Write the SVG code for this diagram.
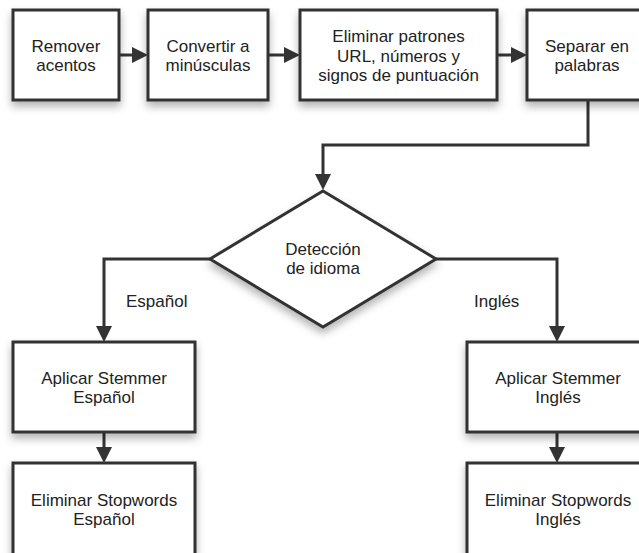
<svg xmlns="http://www.w3.org/2000/svg" width="639" height="553" viewBox="0 0 639 553">
<defs>
<filter id="sh" x="-20%" y="-20%" width="140%" height="150%">
<feDropShadow dx="0" dy="5" stdDeviation="4" flood-color="#000" flood-opacity="0.3"/>
</filter>
<marker id="ah" viewBox="0 0 16 16" refX="8" refY="8" markerWidth="16" markerHeight="16" markerUnits="userSpaceOnUse" orient="auto">
<path d="M0,0 L16,8 L0,16 z" fill="#333"/>
</marker>
<style>
.box{fill:#fff;stroke:#333;stroke-width:3;filter:url(#sh)}
.t{font-family:"Liberation Sans",Arial,sans-serif;font-size:17px;fill:#222;text-anchor:middle}
.l{font-family:"Liberation Sans",Arial,sans-serif;font-size:17px;fill:#222}
.c{fill:none;stroke:#333;stroke-width:3;marker-end:url(#ah)}
</style>
</defs>
<rect width="639" height="553" fill="#fff"/>
<g id="connectors">
<path class="c" d="M119.5,55 H140"/>
<path class="c" d="M268,55 H292"/>
<path class="c" d="M497,55 H519"/>
<path class="c" d="M588,100 V145 H323 V182"/>
<path class="c" d="M210,259 H104 V334"/>
<path class="c" d="M436,259 H557 V334"/>
<path class="c" d="M104,432 V455"/>
<path class="c" d="M557,432 V455"/>
</g>
<g id="n1"><rect class="box" x="13" y="10" width="106" height="90"/><text class="t" x="66" y="52">Remover</text><text class="t" x="66" y="71">acentos</text></g>
<g id="n2"><rect class="box" x="148" y="10" width="120" height="90"/><text class="t" x="208" y="52">Convertir a</text><text class="t" x="208" y="71">minúsculas</text></g>
<g id="n3"><rect class="box" x="300" y="10" width="197" height="90"/><text class="t" x="398.5" y="42">Eliminar patrones</text><text class="t" x="398.5" y="61.5">URL, números y</text><text class="t" x="398.5" y="81">signos de puntuación</text></g>
<g id="n4"><rect class="box" x="527" y="10" width="120" height="90"/><text class="t" x="587" y="52">Separar en</text><text class="t" x="587" y="71">palabras</text></g>
<g id="n5"><polygon class="box" points="323,191 436,259 323,327 210,259"/><text class="t" x="323" y="255">Detección</text><text class="t" x="323" y="274">de idioma</text></g>
<g id="n6"><rect class="box" x="13" y="342" width="182" height="90"/><text class="t" x="104" y="384">Aplicar Stemmer</text><text class="t" x="104" y="403">Español</text></g>
<g id="n7"><rect class="box" x="13" y="463" width="182" height="92"/><text class="t" x="104" y="506">Eliminar Stopwords</text><text class="t" x="104" y="525">Español</text></g>
<g id="n8"><rect class="box" x="467" y="342" width="182" height="90"/><text class="t" x="558" y="384">Aplicar Stemmer</text><text class="t" x="558" y="403">Inglés</text></g>
<g id="n9"><rect class="box" x="467" y="463" width="182" height="92"/><text class="t" x="558" y="506">Eliminar Stopwords</text><text class="t" x="558" y="525">Inglés</text></g>
<g id="labels"><text class="l" x="126" y="307">Español</text><text class="l" x="474" y="307">Inglés</text></g>
</svg>
